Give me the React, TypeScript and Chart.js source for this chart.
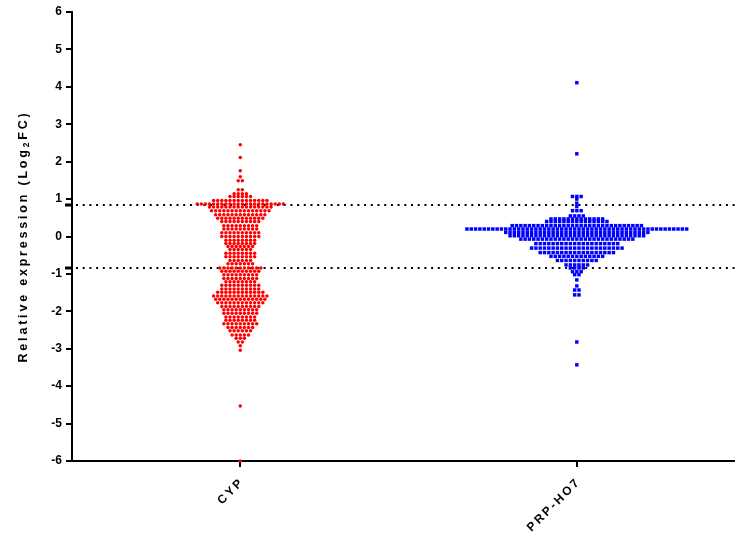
import React, { useEffect, useRef } from "react";
import { Chart, registerables } from "chart.js";

Chart.register(...registerables);

const categories = ["CYP", "PRP-HO7"];
const categoryPositions = [1, 2];
const thresholds = [0.85, -0.85];
const yTitle = ["Relative expression (Log", "2", "FC)"];

// CYP rows: value (Log2FC) and number of genes at that level
const cypLevels = [
  2.45, 2.11, 1.76, 1.6, 1.49, 1.25, 1.14, 1.07, 0.96, 0.87, 0.79, 0.69, 0.58, 0.49, 0.4, 0.29, 0.2,
  0.1, 0.0, -0.1, -0.19, -0.27, -0.35, -0.45, -0.54, -0.64, -0.73,
  -0.84, -0.93, -1.02, -1.12, -1.21, -1.3, -1.4, -1.49, -1.59, -1.68, -1.77, -1.87, -1.96, -2.05,
  -2.15, -2.24, -2.33, -2.43, -2.52, -2.63, -2.72, -2.82, -2.92, -3.04, -4.53, -6.0,
];
const cypCounts = [
  1, 1, 1, 1, 2, 2, 4, 6, 14, 22, 16, 15, 13, 12, 10, 9, 9,
  10, 10, 8, 8, 7, 6, 8, 8, 6, 7,
  11, 10, 9, 9, 8, 10, 10, 12, 14, 13, 12, 10, 9, 9,
  8, 8, 9, 7, 6, 5, 3, 2, 1, 1, 1, 1,
];

// PRP-HO7 rows
const prpLevels = [
  4.11, 2.21, 1.07, 1.0, 0.89, 0.8, 0.69, 0.55, 0.47, 0.4, 0.29, 0.2, 0.11, 0.02, -0.07, -0.19,
  -0.31, -0.43, -0.53, -0.64, -0.76, -0.84, -0.94, -1.02, -1.16, -1.32, -1.43, -1.56, -2.82, -3.43,
];
const prpCounts = [
  1, 1, 3, 1, 1, 1, 3, 4, 13, 15, 31, 52, 34, 32, 27, 20,
  22, 18, 13, 10, 6, 4, 3, 2, 1, 1, 2, 2, 1, 1,
];

function swarm(levels: number[], counts: number[], center: number, spacing: number) {
  const pts: { x: number; y: number }[] = [];
  levels.forEach((y, i) => {
    const n = counts[i];
    for (let j = 0; j < n; j++) {
      pts.push({ x: center + (j - (n - 1) / 2) * spacing, y });
    }
  });
  return pts;
}

const FONT = "'Liberation Sans', Arial, sans-serif";

const decorPlugin = {
  id: "decor",
  beforeDatasetsDraw(chart: any) {
    const { ctx, chartArea, scales } = chart;
    const ys = scales.y;
    ctx.save();
    thresholds.forEach((t) => {
      const py = Math.round(ys.getPixelForValue(t));
      ctx.fillStyle = "#000";
      ctx.fillRect(chartArea.left - 7, py - 1.5, 7, 3);
      ctx.strokeStyle = "#000";
      ctx.lineWidth = 2;
      ctx.setLineDash([2, 4.7]);
      ctx.beginPath();
      ctx.moveTo(chartArea.left + 4, py);
      ctx.lineTo(chartArea.right, py);
      ctx.stroke();
    });
    ctx.restore();
  },
  afterDraw(chart: any) {
    const { ctx, chartArea, scales } = chart;
    const xs = scales.x;
    // x category labels, rotated 45 degrees
    ctx.save();
    ctx.fillStyle = "#000";
    ctx.font = `bold 12px ${FONT}`;
    (ctx as any).letterSpacing = "2.4px";
    ctx.textAlign = "right";
    ctx.textBaseline = "middle";
    categories.forEach((c, i) => {
      const px = xs.getPixelForValue(categoryPositions[i]);
      ctx.save();
      ctx.translate(px + 2, chartArea.bottom + 19);
      ctx.rotate(-Math.PI / 4);
      ctx.fillText(c, 0, 0);
      ctx.restore();
    });
    ctx.restore();

    // y axis title with subscript
    ctx.save();
    ctx.fillStyle = "#000";
    (ctx as any).letterSpacing = "2.8px";
    const big = `bold 12.5px ${FONT}`;
    const small = `bold 8.5px ${FONT}`;
    ctx.font = big;
    const w1 = ctx.measureText(yTitle[0]).width;
    const w3 = ctx.measureText(yTitle[2]).width;
    ctx.font = small;
    const w2 = ctx.measureText(yTitle[1]).width;
    const total = w1 + w2 + w3;
    const cy = (chartArea.top + chartArea.bottom) / 2;
    ctx.translate(24, cy);
    ctx.rotate(-Math.PI / 2);
    ctx.textBaseline = "middle";
    ctx.textAlign = "left";
    let x = -total / 2;
    ctx.font = big;
    ctx.fillText(yTitle[0], x, 0);
    x += w1;
    ctx.font = small;
    ctx.fillText(yTitle[1], x, 3);
    x += w2;
    ctx.font = big;
    ctx.fillText(yTitle[2], x, 0);
    ctx.restore();
  },
};

export default function App() {
  const ref = useRef<HTMLCanvasElement>(null);
  useEffect(() => {
    document.body.style.margin = "0";
    if (!ref.current) return;
    const axisGrid = {
      display: true,
      drawOnChartArea: false,
      drawTicks: true,
      tickLength: 6,
      color: "#000",
      lineWidth: 2,
    };
    const axisBorder = { display: true, color: "#000", width: 2 };
    const chart = new Chart(ref.current, {
      type: "scatter",
      data: {
        datasets: [
          {
            label: categories[0],
            data: swarm(cypLevels, cypCounts, categoryPositions[0], 0.0122),
            pointStyle: "circle",
            pointRadius: 1.75,
            pointBackgroundColor: "#ff0000",
            pointBorderWidth: 0,
            clip: false as any,
          },
          {
            label: categories[1],
            data: swarm(prpLevels, prpCounts, categoryPositions[1], 0.0128),
            pointStyle: "rect",
            pointRadius: 2.45,
            pointBackgroundColor: "#0000ff",
            pointBorderWidth: 0,
            clip: false as any,
          },
        ],
      },
      options: {
        responsive: false,
        animation: false,
        layout: { autoPadding: false, padding: { top: 12, left: 0, right: 0, bottom: 0 } },
        plugins: { legend: { display: false }, tooltip: { enabled: false } },
        scales: {
          x: {
            type: "linear",
            min: 0.5,
            max: 2.47,
            afterBuildTicks: (s: any) => {
              s.ticks = categoryPositions.map((v) => ({ value: v }));
            },
            ticks: { display: false },
            grid: axisGrid as any,
            border: axisBorder as any,
            afterFit: (s: any) => {
              s.height = 77;
            },
          },
          y: {
            min: -6,
            max: 6,
            ticks: {
              stepSize: 1,
              color: "#000",
              padding: 4,
              font: { family: FONT, weight: "bold", size: 12 },
            },
            grid: axisGrid as any,
            border: axisBorder as any,
            afterFit: (s: any) => {
              s.width = 72;
            },
          },
        },
      },
      plugins: [decorPlugin],
    });
    return () => chart.destroy();
  }, []);
  return (
    <div style={{ width: 735, height: 538 }}>
      <canvas ref={ref} width={735} height={538} style={{ width: 735, height: 538 }} />
    </div>
  );
}
